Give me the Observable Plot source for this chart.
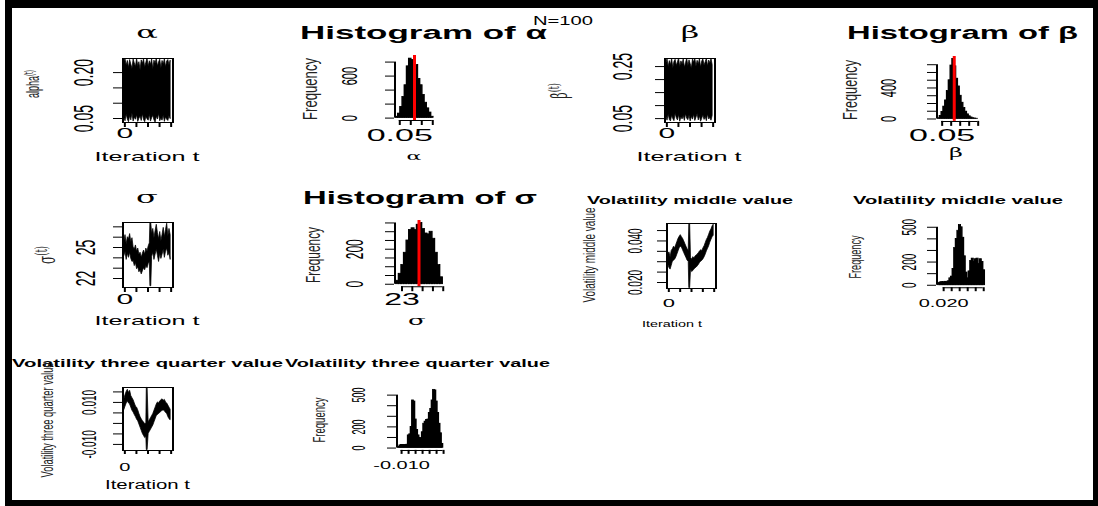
<!DOCTYPE html>
<html><head><meta charset="utf-8">
<script src="https://cdn.jsdelivr.net/npm/d3@7"></script>
<script src="https://cdn.jsdelivr.net/npm/@observablehq/plot@0.6"></script>
<style>
body{margin:0;background:#fff;}
#page{position:relative;width:1098px;height:506px;overflow:hidden;background:#fff;}
#stage{position:absolute;left:0;top:0;width:549px;height:506px;transform:scale(2,1);transform-origin:0 0;}
#frame{position:absolute;left:5px;top:0;width:1093px;height:506px;box-sizing:border-box;border-style:solid;border-color:#000;border-width:8px 5px 6px 7px;pointer-events:none;}
</style></head><body>
<div id="page"><div id="stage"></div><div id="frame"></div></div>
<script>
// ---------- data ----------
// trace iterations / envelopes (lo, hi) of the chains
const alphaIter = [0,200,400,600,800,1000,1200,1400,1600,1800,2000,2200,2400,2600,2800,3000,3200,3400,3600,3800,4000,4200,4400,4600,4800,5000,5200,5400,5600,5800,6000,6200,6400,6600,6800,7000,7200,7400,7600,7800,8000];
const alphaHi = [0.236,0.244,0.222,0.238,0.215,0.241,0.226,0.212,0.243,0.230,0.218,0.245,0.221,0.234,0.208,0.240,0.228,0.244,0.216,0.232,0.246,0.219,0.237,0.225,0.243,0.211,0.239,0.229,0.245,0.220,0.233,0.242,0.214,0.238,0.226,0.244,0.217,0.236,0.241,0.223,0.239];
const alphaLo = [0.052,0.041,0.063,0.047,0.038,0.058,0.044,0.066,0.040,0.053,0.046,0.061,0.039,0.049,0.057,0.042,0.064,0.045,0.038,0.055,0.048,0.043,0.062,0.040,0.051,0.059,0.044,0.037,0.056,0.047,0.065,0.041,0.050,0.043,0.060,0.039,0.054,0.046,0.042,0.058,0.048];

const betaIter = [0,200,400,600,800,1000,1200,1400,1600,1800,2000,2200,2400,2600,2800,3000,3200,3400,3600,3800,4000,4200,4400,4600,4800,5000,5200,5400,5600,5800,6000,6200,6400,6600,6800,7000,7200,7400,7600,7800,8000];
const betaHi = [0.262,0.279,0.248,0.271,0.255,0.280,0.243,0.268,0.276,0.252,0.266,0.281,0.247,0.270,0.258,0.278,0.245,0.263,0.280,0.251,0.274,0.260,0.242,0.277,0.265,0.281,0.249,0.272,0.257,0.279,0.246,0.269,0.278,0.253,0.267,0.280,0.250,0.273,0.262,0.279,0.256];
const betaLo = [0.058,0.042,0.066,0.045,0.039,0.061,0.048,0.040,0.069,0.052,0.043,0.064,0.038,0.055,0.047,0.060,0.041,0.067,0.050,0.044,0.062,0.039,0.057,0.046,0.065,0.041,0.053,0.068,0.043,0.059,0.038,0.049,0.063,0.045,0.056,0.040,0.066,0.047,0.052,0.042,0.060];

const sigmaIter = [0,200,400,600,800,1000,1200,1400,1600,1800,2000,2200,2400,2600,2800,3000,3200,3400,3600,3800,4000,4200,4400,4500,4650,4800,5000,5200,5400,5600,5800,6000,6200,6400,6600,6800,7000,7200,7400,7600,7800,8000];
const sigmaHi = [25.6,26.2,25.3,26.0,25.8,26.3,25.5,25.9,25.0,24.8,25.2,24.6,24.9,24.3,24.5,24.0,24.4,24.7,24.3,24.9,24.6,25.1,25.4,27.35,27.35,26.3,26.8,25.9,26.6,27.2,26.4,25.8,26.5,25.6,26.2,26.9,26.0,26.7,27.3,26.1,26.8,26.2];
const sigmaLo = [24.2,24.6,23.8,24.4,24.0,24.5,23.9,23.6,23.7,23.2,23.5,22.9,23.1,22.6,22.8,22.4,22.7,23.0,22.8,23.2,23.0,23.4,23.6,21.25,21.25,24.1,24.5,23.8,24.3,24.8,24.2,23.6,24.4,23.9,24.3,24.8,24.0,24.6,24.9,24.2,24.5,23.8];

const midIter = [0,200,400,600,800,1000,1200,1400,1600,1800,2000,2200,2400,2600,2800,3000,3200,3400,3600,3700,3850,4000,4200,4400,4600,4800,5000,5200,5400,5600,5800,6000,6200,6400,6600,6800,7000,7200,7400,7600,7800,8000];
const midHi = [0.0335,0.0345,0.0320,0.0352,0.0360,0.0372,0.0365,0.0380,0.0395,0.0410,0.0420,0.0428,0.0418,0.0410,0.0398,0.0385,0.0372,0.0360,0.0352,0.0482,0.0482,0.0318,0.0310,0.0322,0.0315,0.0325,0.0330,0.0335,0.0342,0.0350,0.0355,0.0352,0.0365,0.0375,0.0390,0.0405,0.0415,0.0430,0.0445,0.0455,0.0470,0.0478];
const midLo = [0.0285,0.0270,0.0262,0.0280,0.0300,0.0305,0.0310,0.0320,0.0335,0.0350,0.0365,0.0372,0.0368,0.0355,0.0342,0.0330,0.0318,0.0305,0.0300,0.0173,0.0173,0.0262,0.0250,0.0255,0.0262,0.0268,0.0272,0.0278,0.0285,0.0295,0.0300,0.0305,0.0312,0.0322,0.0335,0.0350,0.0362,0.0375,0.0392,0.0405,0.0418,0.0425];

const tqIter = [0,200,400,600,800,1000,1200,1400,1600,1800,2000,2200,2400,2600,2800,3000,3200,3400,3600,3800,3880,4020,4200,4400,4600,4800,5000,5200,5400,5600,5800,6000,6200,6400,6600,6800,7000,7200,7400,7600,7800,8000];
const tqHi = [0.0115,0.0135,0.0150,0.0160,0.0145,0.0155,0.0130,0.0120,0.0110,0.0095,0.0080,0.0075,0.0062,0.0045,0.0030,0.0020,0.0010,0.0005,-0.0005,0.0002,0.0169,0.0169,0.0005,0.0015,0.0025,0.0035,0.0045,0.0060,0.0075,0.0090,0.0100,0.0095,0.0105,0.0110,0.0115,0.0108,0.0112,0.0100,0.0095,0.0085,0.0075,0.0065];
const tqLo = [0.0065,0.0080,0.0095,0.0105,0.0095,0.0090,0.0075,0.0060,0.0052,0.0040,0.0030,0.0018,0.0010,-0.0005,-0.0020,-0.0035,-0.0050,-0.0060,-0.0070,-0.0065,-0.0127,-0.0127,-0.0050,-0.0040,-0.0030,-0.0020,-0.0010,0.0005,0.0020,0.0035,0.0040,0.0045,0.0050,0.0055,0.0060,0.0062,0.0058,0.0050,0.0045,0.0030,0.0020,0.0015];

// histogram counts (bin start, bin width, counts) and posterior means (red lines)
const alphaBinStart = 0.035, alphaBinWidth = 0.01;
const alphaCounts = [20,65,160,300,470,740,850,830,820,760,560,470,330,220,140,80,20];
const alphaMean = 0.117;
const betaBinStart = 0.03, betaBinWidth = 0.01;
const betaCounts = [10,40,90,160,240,360,500,690,775,680,520,420,300,210,140,95,60,35,20,10,6,3];
const betaMean = 0.117;
const sigmaBinStart = 22.5, sigmaBinWidth = 0.25;
const sigmaCounts = [20,60,110,180,250,310,320,310,340,350,315,290,285,300,260,180,110,40];
const sigmaMean = 24.65;
const midBinStart = 0.017, midBinWidth = 0.001;
const midCounts = [20,25,28,26,30,28,35,60,75,140,320,400,470,520,500,410,250,110,60,120,210,230,200,225,230,185,225,200,130];
const tqBinStart = -0.012, tqBinWidth = 0.001;
const tqCounts = [10,25,28,30,26,30,32,120,130,200,450,440,270,170,120,95,90,150,230,250,265,270,330,370,450,550,545,440,330,230,140,40];

// axis ticks and the labels R printed
const iterTicks = [0,2000,4000,6000,8000];
const iterTickText = ["0","","","",""];
const alphaTraceTicks = [0.05,0.10,0.15,0.20];
const alphaTraceText = ["0.05","","","0.20"];
const betaTraceTicks = [0.05,0.10,0.15,0.20,0.25];
const betaTraceText = ["0.05","","","","0.25"];
const sigmaTraceTicks = [22,23,24,25,26,27];
const sigmaTraceText = ["22","","","25","",""];
const midTraceTicks = [0.020,0.025,0.030,0.035,0.040,0.045];
const midTraceText = ["0.020","","","","0.040",""];
const tqTraceTicks = [-0.010,-0.005,0,0.005,0.010,0.015];
const tqTraceText = ["-0.010","","","","0.010",""];

const alphaFreqTicks = [0,200,400,600,800];
const alphaFreqText = ["0","","","600",""];
const alphaValTicks = [0.05,0.10,0.15,0.20];
const alphaValText = ["0.05","","",""];
const betaFreqTicks = [0,100,200,300,400,500,600,700];
const betaFreqText = ["0","","","","400","","",""];
const betaValTicks = [0.05,0.10,0.15,0.20,0.25];
const betaValText = ["0.05","","","",""];
const sigmaFreqTicks = [0,50,100,150,200,250,300,350];
const sigmaFreqText = ["0","","","","200","","",""];
const sigmaValTicks = [23,24,25,26,27];
const sigmaValText = ["23","","","",""];
const midFreqTicks = [0,100,200,300,400,500];
const midFreqText = ["0","","200","","","500"];
const midValTicks = [0.020,0.025,0.030,0.035,0.040,0.045];
const midValText = ["0.020","","","","",""];
const tqFreqTicks = [0,100,200,300,400,500];
const tqFreqText = ["0","","200","","","500"];
const tqValTicks = [-0.010,-0.005,0,0.005,0.010,0.015,0.020];
const tqValText = ["-0.010","","","","","",""];

// ---------- drawing ----------
const FONT = '"Liberation Sans", Arial, Helvetica, sans-serif';
const SERIF = '"DejaVu Serif", "Liberation Serif", serif';
const stage = document.getElementById("stage");
const SX = 0.5; // picture px -> stage units (stage is stretched 2x horizontally)
const STYLE = `background:transparent;overflow:visible;font-family:${FONT};color:#000;position:absolute;`;

function place(chart, box, mL, mT) {
  chart.style.left = (box[0] * SX - mL) + "px";
  chart.style.top = (box[2] - mT) + "px";
  stage.appendChild(chart);
}

function yLabelMarks(ticks, text, fs, dx) {
  const lab = ticks.map((v, i) => ({v, t: text[i]})).filter(d => d.t);
  return Plot.text(lab, {y: "v", text: "t", frameAnchor: "left", dx, rotate: -90,
    textAnchor: "middle", lineAnchor: "bottom", fontSize: fs, fill: "#000"});
}

function makeTrace(c) {
  const mL = 40, mR = 6, mT = 6, mB = 34;
  const w = (c.box[1] - c.box[0]) * SX, h = c.box[3] - c.box[2];
  const rows = c.iter.map((it, i) => ({it, lo: c.lo[i], hi: c.hi[i]}));
  const xFmt = new Map(c.xTicks.map((v, i) => [v, c.xText[i]]));
  const chart = Plot.plot({
    width: w + mL + mR, height: h + mT + mB,
    marginLeft: mL, marginRight: mR, marginTop: mT, marginBottom: mB,
    style: STYLE,
    x: {domain: c.xDomain, label: null},
    y: {domain: c.yDomain, label: null},
    marks: [
      Plot.areaY(rows, {x: "it", y1: "lo", y2: "hi", fill: "#000", stroke: "#000", strokeWidth: 0.5}),
      Plot.frame({stroke: "#000", strokeWidth: 1}),
      Plot.axisY({ticks: c.yTicks, tickSize: 4.5, tickFormat: () => "", label: null}),
      yLabelMarks(c.yTicks, c.yText, c.yFs, c.yDx),
      Plot.axisX({ticks: c.xTicks, tickSize: c.xTickSize, tickPadding: c.xPad,
        tickFormat: d => xFmt.get(d) ?? "", fontSize: c.xFs, label: null})
    ]
  });
  place(chart, c.box, mL, mT);
}

function makeHist(c) {
  const mL = 40, mR = 6, mT = 6, mB = 34;
  const w = (c.box[1] - c.box[0]) * SX, h = c.box[3] - c.box[2];
  const bins = c.counts.map((n, i) => ({a: c.start + i * c.width, b: c.start + (i + 1) * c.width, z: 0, n}));
  const xFmt = new Map(c.xTicks.map((v, i) => [v, c.xText[i]]));
  const yLine = [{x: c.xDomain[0], a: c.yTicks[0], b: c.yTicks[c.yTicks.length - 1]}];
  const xLine = [{y: c.yDomain[0], a: c.xTicks[0], b: c.xTicks[c.xTicks.length - 1]}];
  const chart = Plot.plot({
    width: w + mL + mR, height: h + mT + mB,
    marginLeft: mL, marginRight: mR, marginTop: mT, marginBottom: mB,
    style: STYLE,
    x: {domain: c.xDomain, label: null},
    y: {domain: c.yDomain, label: null},
    marks: [
      Plot.rect(bins, {x1: "a", x2: "b", y1: "z", y2: "n", fill: "#000", stroke: "#000", strokeWidth: 0.7}),
      c.mean != null ? Plot.ruleX([c.mean], {stroke: "#ff0000", strokeWidth: 1.5}) : null,
      Plot.ruleX(yLine, {x: "x", y1: "a", y2: "b", stroke: "#000", strokeWidth: 1}),
      Plot.ruleY(xLine, {y: "y", x1: "a", x2: "b", stroke: "#000", strokeWidth: 1}),
      Plot.axisY({ticks: c.yTicks, tickSize: 4.5, tickFormat: () => "", label: null}),
      yLabelMarks(c.yTicks, c.yText, c.yFs, c.yDx),
      Plot.axisX({ticks: c.xTicks, tickSize: c.xTickSize, tickPadding: c.xPad,
        tickFormat: d => xFmt.get(d) ?? "", fontSize: c.xFs, label: null})
    ]
  });
  place(chart, c.box, mL, mT);
}

// row 1
makeTrace({box: [122, 172, 58, 122], xDomain: [-320, 8320], yDomain: [0.037, 0.246],
  iter: alphaIter, lo: alphaLo, hi: alphaHi, yTicks: alphaTraceTicks, yText: alphaTraceText, yFs: 14, yDx: -15,
  xTicks: iterTicks, xText: iterTickText, xFs: 15, xTickSize: 5, xPad: 0});
makeHist({box: [393.2, 433.6, 55.4, 120.4], xDomain: [0.0282, 0.2118], yDomain: [-34, 894],
  start: alphaBinStart, width: alphaBinWidth, counts: alphaCounts, mean: alphaMean,
  yTicks: alphaFreqTicks, yText: alphaFreqText, yFs: 11, yDx: -19,
  xTicks: alphaValTicks, xText: alphaValText, xFs: 17, xTickSize: 5, xPad: 3.6});
makeTrace({box: [664, 714, 58, 122], xDomain: [-320, 8320], yDomain: [0.035, 0.281],
  iter: betaIter, lo: betaLo, hi: betaHi, yTicks: betaTraceTicks, yText: betaTraceText, yFs: 14, yDx: -16.5,
  xTicks: iterTicks, xText: iterTickText, xFs: 15, xTickSize: 5, xPad: 0});
makeHist({box: [936.8, 979.6, 55.5, 120.4], xDomain: [0.0212, 0.2588], yDomain: [-31, 806],
  start: betaBinStart, width: betaBinWidth, counts: betaCounts, mean: betaMean,
  yTicks: betaFreqTicks, yText: betaFreqText, yFs: 11, yDx: -20.4,
  xTicks: betaValTicks, xText: betaValText, xFs: 17, xTickSize: 5, xPad: 2.6});
// row 2
makeTrace({box: [122, 172, 222, 287], xDomain: [-320, 8320], yDomain: [21.13, 27.42],
  iter: sigmaIter, lo: sigmaLo, hi: sigmaHi, yTicks: sigmaTraceTicks, yText: sigmaTraceText, yFs: 14, yDx: -14,
  xTicks: iterTicks, xText: iterTickText, xFs: 15, xTickSize: 5, xPad: 1});
makeHist({box: [393.0, 443.1, 220.3, 286.5], xDomain: [22.32, 27.18], yDomain: [-14, 364],
  start: sigmaBinStart, width: sigmaBinWidth, counts: sigmaCounts, mean: sigmaMean,
  yTicks: sigmaFreqTicks, yText: sigmaFreqText, yFs: 12, yDx: -16.2,
  xTicks: sigmaValTicks, xText: sigmaValText, xFs: 16, xTickSize: 5, xPad: 1.5});
makeTrace({box: [665, 714, 223, 288], xDomain: [-320, 8320], yDomain: [0.0171, 0.0484],
  iter: midIter, lo: midLo, hi: midHi, yTicks: midTraceTicks, yText: midTraceText, yFs: 10, yDx: -12.4,
  xTicks: iterTicks, xText: iterTickText, xFs: 11, xTickSize: 4, xPad: 7});
makeHist({box: [935.3, 985.5, 222.2, 287.4], xDomain: [0.01584, 0.04716], yDomain: [-21, 541],
  start: midBinStart, width: midBinWidth, counts: midCounts, mean: null,
  yTicks: midFreqTicks, yText: midFreqText, yFs: 10, yDx: -10.6,
  xTicks: midValTicks, xText: midValText, xFs: 10, xTickSize: 4, xPad: 8.6});
// row 3
makeTrace({box: [122, 172, 387, 450], xDomain: [-320, 8320], yDomain: [-0.0129, 0.0171],
  iter: tqIter, lo: tqLo, hi: tqHi, yTicks: tqTraceTicks, yText: tqTraceText, yFs: 10, yDx: -13.7,
  xTicks: iterTicks, xText: iterTickText, xFs: 10, xTickSize: 4, xPad: 9});
makeHist({box: [395.4, 443.8, 387.4, 450.3], xDomain: [-0.01328, 0.02128], yDomain: [-22, 572],
  start: tqBinStart, width: tqBinWidth, counts: tqCounts, mean: null,
  yTicks: tqFreqTicks, yText: tqFreqText, yFs: 9, yDx: -16,
  xTicks: tqValTicks, xText: tqValText, xFs: 10, xTickSize: 4, xPad: 7.7});

// ---------- titles and axis titles ----------
const ov = d3.select(stage).append("svg")
  .attr("width", 549).attr("height", 506)
  .style("position", "absolute").style("left", "0px").style("top", "0px").style("overflow", "visible");

const titles = [
  [147, 38, "α", 16, SERIF, "normal"],
  [423.5, 39.5, "Histogram of α", 17.5, FONT, "bold", 123.5],
  [563, 25.5, "N=100", 12.5, FONT, "normal", 30],
  [690, 38, "β", 16, SERIF, "normal"],
  [962.5, 39.5, "Histogram of β", 17.5, FONT, "bold", 115.5],
  [147, 161, "Iteration t", 13, FONT, "normal", 52.5],
  [689, 161, "Iteration t", 13, FONT, "normal", 52.5],
  [414, 160, "α", 11, SERIF, "normal"],
  [956, 157, "β", 12, SERIF, "normal"],
  [147, 203, "σ", 16, SERIF, "normal"],
  [420, 204.5, "Histogram of σ", 17.5, FONT, "bold", 117],
  [147, 325, "Iteration t", 13, FONT, "normal", 52.5],
  [417, 325, "σ", 13, SERIF, "normal"],
  [690, 204, "Volatility middle value", 10.5, FONT, "bold", 103],
  [958, 204, "Volatility middle value", 10.5, FONT, "bold", 105],
  [672, 327, "Iteration t", 8.5, FONT, "normal", 30],
  [147.5, 367, "Volatility three quarter value", 11, FONT, "bold", 135.5],
  [417.5, 367, "Volatility three quarter value", 11, FONT, "bold", 132.5],
  [147.5, 489, "Iteration t", 12.5, FONT, "normal", 42.5]
];
titles.forEach(([x, y, s, fs, fam, wt, len]) => {
  const t = ov.append("text").attr("x", x * SX).attr("y", y).attr("text-anchor", "middle")
    .attr("font-size", fs).attr("font-family", fam).attr("font-weight", wt).attr("fill", "#000").text(s);
  if (len) t.attr("textLength", len).attr("lengthAdjust", "spacingAndGlyphs");
});

// rotated axis titles: [baseline x, center y, text, superscript, size, family, length]
const vtitles = [
  [39, 84, "alpha", "(t)", 9, FONT, null],
  [567, 91, "β", "(t)", 11, SERIF, null],
  [55, 255, "σ", "(t)", 12, SERIF, null],
  [317, 89, "Frequency", "", 10, FONT, 62],
  [857, 90, "Frequency", "", 10, FONT, 60],
  [320, 255, "Frequency", "", 10, FONT, 56],
  [595, 255, "Volatility middle value", "", 8, FONT, 95],
  [861, 257, "Frequency", "", 8, FONT, 43],
  [53, 420, "Volatility three quarter value", "", 8, FONT, 115],
  [325, 420, "Frequency", "", 8, FONT, 45]
];
vtitles.forEach(([x, y, s, sup, fs, fam, len]) => {
  const t = ov.append("text").attr("transform", `translate(${x * SX},${y}) rotate(-90)`)
    .attr("text-anchor", "middle").attr("font-size", fs).attr("font-family", fam).attr("fill", "#222");
  t.append("tspan").text(s);
  if (sup) t.append("tspan").attr("dy", "-0.5em").attr("font-size", fs * 0.7).text(sup);
  if (len) t.attr("textLength", len).attr("lengthAdjust", "spacingAndGlyphs");
});
</script></body></html>
